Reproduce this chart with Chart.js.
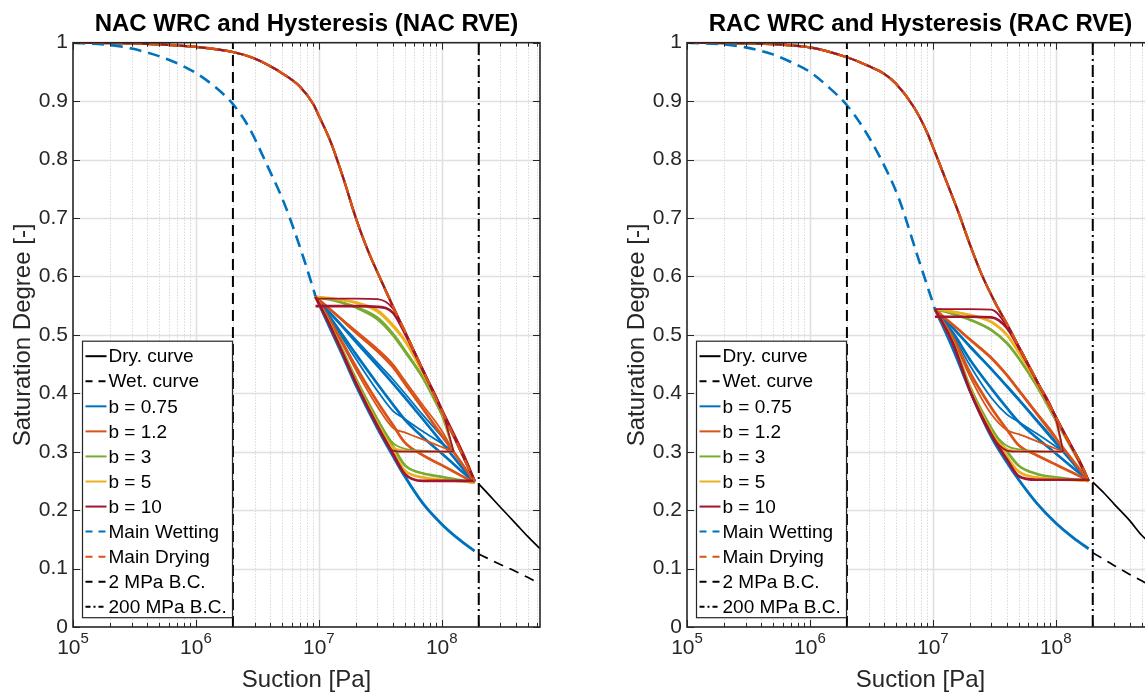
<!DOCTYPE html>
<html>
<head>
<meta charset="utf-8">
<script src="https://cdn.jsdelivr.net/npm/chart.js@4.4.1/dist/chart.umd.min.js"></script>
<style>
    html, body { margin: 0; padding: 0; background: #fff; width: 1145px; height: 695px; overflow: hidden; }
    .panel { position: absolute; top: 0; }
</style>
</head>
<body>
<div class="panel" style="left:0px"><canvas id="nac" width="560" height="695"></canvas></div>
<div class="panel" style="left:614px"><canvas id="rac" width="560" height="695"></canvas></div>
<script>
const FONT = "'Liberation Sans', Arial, Helvetica, sans-serif";
const INK = '#262626';

// b parameters and their colours
const bLabels = ['0.75', '1.2', '3', '5', '10'];
const bColors = ['#0072BD', '#D95319', '#77AC30', '#EDB120', '#A2142F'];

// shared suction values (Pa)
const suctionMD = [1e5, 3e5, 1e6, 2e6, 3e6, 4e6, 5e6, 7e6, 9e6, 1e7, 1.25e7, 1.6e7, 2e7, 2.5e7, 3.2e7, 4e7, 5e7, 6.3e7, 8e7, 1e8, 1.25e8, 1.6e8, 1.85e8];
const suctionEnd = [2e8, 2.5e8, 3e8, 4e8, 5e8, 6.3e8];
const bcLow = [2e6, 2e6];
const bcHigh = [2e8, 2e8];
const bcRange = [0, 1];

// ---- NAC RVE ----
const nacMainDrying = [1.0, 0.999, 0.993, 0.984, 0.973, 0.96, 0.948, 0.925, 0.895, 0.875, 0.83, 0.765, 0.7, 0.645, 0.594, 0.549, 0.506, 0.461, 0.414, 0.37, 0.327, 0.278, 0.25];
const nacWetSuction = [1e5, 2e5, 3e5, 5e5, 7e5, 1e6, 1.4e6, 2e6, 2.7e6, 3.8e6, 5.3e6, 7.5e6, 9.4e6];
const nacMainWetting = [1.0, 0.996, 0.99, 0.977, 0.965, 0.948, 0.926, 0.895, 0.855, 0.79, 0.722, 0.632, 0.566];
const nacLowSuction = [9.4e6, 1.2e7, 1.5e7, 2e7, 3e7, 4e7, 5e7, 7e7, 1e8, 1.4e8, 1.85e8];
const nacLowWetting = [0.566, 0.517, 0.473, 0.414, 0.34, 0.293, 0.258, 0.212, 0.176, 0.149, 0.13];
const nacDryCurve = [0.245, 0.223, 0.205, 0.177, 0.155, 0.134];
const nacWetCurve = [0.125, 0.115, 0.107, 0.095, 0.085, 0.074];
const nacLoopP = [9.4e6, 1.2e7, 1.5e7, 2e7, 3e7, 4e7, 5e7, 7e7, 1e8, 1.5e8, 1.85e8];
const nacLoopB = [9.4e6, 1.2e7, 1.5e7, 2e7, 3e7, 4e7, 5e7, 7e7, 1e8, 1.25e8];
const nacWetFromP = [
    [0.565, 0.534, 0.505, 0.467, 0.416, 0.381, 0.355, 0.325, 0.297, 0.264, 0.247],
    [0.565, 0.529, 0.493, 0.446, 0.385, 0.346, 0.316, 0.294, 0.277, 0.257, 0.247],
    [0.565, 0.523, 0.481, 0.425, 0.355, 0.31, 0.277, 0.263, 0.257, 0.25, 0.247],
    [0.565, 0.522, 0.478, 0.42, 0.348, 0.302, 0.268, 0.256, 0.252, 0.249, 0.247],
    [0.565, 0.521, 0.477, 0.418, 0.344, 0.297, 0.262, 0.25, 0.25, 0.25, 0.25]
];
const nacDryToP = [
    [0.565, 0.54, 0.518, 0.488, 0.447, 0.417, 0.393, 0.356, 0.316, 0.27, 0.247],
    [0.565, 0.546, 0.528, 0.504, 0.472, 0.445, 0.417, 0.374, 0.328, 0.276, 0.248],
    [0.565, 0.561, 0.556, 0.547, 0.527, 0.5, 0.472, 0.427, 0.365, 0.293, 0.249],
    [0.565, 0.563, 0.56, 0.555, 0.54, 0.515, 0.49, 0.436, 0.37, 0.295, 0.249],
    [0.549, 0.549, 0.549, 0.549, 0.548, 0.538, 0.503, 0.44, 0.372, 0.295, 0.25]
];
const nacDryToB = [
    [0.565, 0.541, 0.519, 0.492, 0.452, 0.424, 0.4, 0.363, 0.326, 0.30],
    [0.565, 0.546, 0.529, 0.507, 0.476, 0.45, 0.422, 0.38, 0.336, 0.30],
    [0.565, 0.561, 0.556, 0.548, 0.53, 0.503, 0.475, 0.428, 0.362, 0.30],
    [0.565, 0.563, 0.56, 0.556, 0.543, 0.518, 0.492, 0.436, 0.368, 0.30],
    [0.562, 0.562, 0.562, 0.562, 0.561, 0.545, 0.504, 0.44, 0.372, 0.30]
];
const nacWetFromB = [
    [0.565, 0.532, 0.5, 0.459, 0.404, 0.37, 0.356, 0.335, 0.314, 0.30],
    [0.565, 0.527, 0.49, 0.44, 0.377, 0.341, 0.333, 0.321, 0.308, 0.30],
    [0.565, 0.523, 0.48, 0.424, 0.355, 0.315, 0.305, 0.302, 0.30, 0.30],
    [0.565, 0.522, 0.478, 0.42, 0.348, 0.308, 0.302, 0.30, 0.30, 0.30],
    [0.565, 0.521, 0.477, 0.418, 0.344, 0.302, 0.30, 0.30, 0.30, 0.30]
];

// ---- RAC RVE ----
const racMainDrying = [1.0, 0.999, 0.992, 0.975, 0.96, 0.947, 0.93, 0.89, 0.846, 0.822, 0.77, 0.712, 0.655, 0.603, 0.556, 0.519, 0.48, 0.44, 0.398, 0.36, 0.32, 0.28, 0.25];
const racWetSuction = [1e5, 2e5, 3e5, 5e5, 7e5, 1e6, 1.4e6, 2e6, 2.7e6, 3.8e6, 5.3e6, 7.5e6, 1.04e7];
const racMainWetting = [1.0, 0.997, 0.992, 0.98, 0.967, 0.95, 0.925, 0.893, 0.855, 0.8, 0.733, 0.635, 0.544];
const racLowSuction = [1.04e7, 1.25e7, 1.5e7, 2e7, 3e7, 4e7, 5e7, 7e7, 1e8, 1.4e8, 1.85e8];
const racLowWetting = [0.544, 0.508, 0.47, 0.405, 0.325, 0.282, 0.252, 0.212, 0.178, 0.152, 0.134];
const racDryCurve = [0.248, 0.228, 0.21, 0.182, 0.157, 0.138];
const racWetCurve = [0.127, 0.115, 0.105, 0.09, 0.079, 0.068];
const racLoopP = [1.04e7, 1.25e7, 1.5e7, 2e7, 3e7, 4e7, 5e7, 7e7, 1e8, 1.5e8, 1.85e8];
const racLoopB = [1.04e7, 1.25e7, 1.5e7, 2e7, 3e7, 4e7, 5e7, 7e7, 1e8, 1.15e8];
const racWetFromP = [
    [0.544, 0.522, 0.5, 0.458, 0.408, 0.375, 0.351, 0.324, 0.297, 0.266, 0.25],
    [0.544, 0.518, 0.491, 0.436, 0.375, 0.338, 0.311, 0.294, 0.278, 0.26, 0.25],
    [0.544, 0.515, 0.482, 0.412, 0.34, 0.301, 0.276, 0.262, 0.256, 0.252, 0.25],
    [0.544, 0.514, 0.48, 0.408, 0.333, 0.292, 0.266, 0.256, 0.253, 0.251, 0.25],
    [0.544, 0.514, 0.479, 0.405, 0.329, 0.287, 0.258, 0.252, 0.252, 0.252, 0.252]
];
const racDryToP = [
    [0.544, 0.526, 0.509, 0.48, 0.441, 0.412, 0.389, 0.353, 0.315, 0.272, 0.25],
    [0.544, 0.529, 0.515, 0.492, 0.46, 0.431, 0.405, 0.365, 0.323, 0.275, 0.25],
    [0.544, 0.54, 0.535, 0.526, 0.508, 0.486, 0.46, 0.413, 0.354, 0.288, 0.25],
    [0.544, 0.542, 0.539, 0.534, 0.522, 0.5, 0.47, 0.418, 0.357, 0.289, 0.25],
    [0.531, 0.531, 0.531, 0.531, 0.53, 0.512, 0.478, 0.421, 0.359, 0.29, 0.25]
];
const racDryToB = [
    [0.544, 0.526, 0.509, 0.481, 0.442, 0.413, 0.39, 0.355, 0.317, 0.30],
    [0.544, 0.529, 0.515, 0.493, 0.461, 0.432, 0.406, 0.367, 0.325, 0.30],
    [0.544, 0.54, 0.535, 0.526, 0.508, 0.486, 0.46, 0.413, 0.352, 0.30],
    [0.544, 0.542, 0.539, 0.534, 0.522, 0.5, 0.47, 0.418, 0.355, 0.30],
    [0.544, 0.544, 0.544, 0.544, 0.543, 0.515, 0.478, 0.421, 0.357, 0.30]
];
const racWetFromB = [
    [0.544, 0.52, 0.495, 0.448, 0.392, 0.364, 0.351, 0.331, 0.309, 0.30],
    [0.544, 0.517, 0.488, 0.429, 0.364, 0.337, 0.33, 0.318, 0.305, 0.30],
    [0.544, 0.514, 0.481, 0.41, 0.338, 0.31, 0.304, 0.301, 0.30, 0.30],
    [0.544, 0.514, 0.48, 0.406, 0.332, 0.305, 0.301, 0.30, 0.30, 0.30],
    [0.544, 0.513, 0.479, 0.404, 0.328, 0.302, 0.30, 0.30, 0.30, 0.30]
];

// legend entries (same on both panels)
const legendLabels = ['Dry. curve', 'Wet. curve', 'b = 0.75', 'b = 1.2', 'b = 3', 'b = 5', 'b = 10',
    'Main Wetting', 'Main Drying', '2 MPa B.C.', '200 MPa B.C.'];
const legendColors = ['#000000', '#000000', ...bColors, '#0072BD', '#D95319', '#000000', '#000000'];
const legendDashes = [[], [7, 6], [], [], [], [], [], [7, 6], [7, 6], [7, 6], [5, 3, 2, 3]];

function series(xs, ys) {
    return xs.map((x, i) => ({ x: x, y: ys[i] }));
}

function buildDatasets(p) {
    const list = [];
    const add = (data, color, width, dash, smooth = true) => list.push({
        data: data,
        borderColor: color,
        borderWidth: width,
        borderDash: dash || [],
        showLine: true,
        pointRadius: 0,
        fill: false,
        tension: 0,
        cubicInterpolationMode: smooth ? 'monotone' : 'default'
    });

    // drawn bottom to top (MATLAB plot order)
    add(series(suctionEnd, p.dryCurve), '#000000', 1.7);
    add(series(suctionEnd, p.wetCurve), '#000000', 1.7, [10, 7]);
    bColors.forEach((c, k) => {
        add(series(suctionMD, p.mainDrying), c, 2.2);
        if (k === 0) add(series(p.lowSuction, p.lowWetting), c, 2.9);
        add(series(p.loopP, p.wetFromP[k]), c, 2.7);
        add(series(p.loopP, p.dryToP[k]), c, 2.7);
        add(series(p.loopB, p.dryToB[k]), c, 1.8);
        add(series(p.loopB, p.wetFromB[k]), c, 1.8);
    });
    add(series(p.wetSuction, p.mainWetting), '#0072BD', 2.6, [12, 7]);
    add(series(suctionMD, p.mainDrying), '#D95319', 2.4, [12, 7]);
    add(series(bcLow, bcRange), '#000000', 2, [11, 6], false);
    add(series(bcHigh, bcRange), '#000000', 2, [12, 4, 2, 4], false);

    // Chart.js paints the lowest order last, so reverse the MATLAB order
    list.forEach((d, i) => { d.order = list.length - i; });
    return list;
}

// gridlines, box, inside ticks, power-of-ten labels and the legend
const axesDecor = {
    id: 'axesDecor',
    beforeDatasetsDraw(chart) {
        const { ctx, chartArea: a, scales: { x, y } } = chart;
        ctx.save();
        for (let e = 5; e <= 8; e++) {
            for (let k = 1; k <= 9; k++) {
                const v = k * Math.pow(10, e);
                if (v <= x.min || v >= x.max) continue;
                const px = Math.round(x.getPixelForValue(v)) + 0.5;
                ctx.beginPath();
                if (k === 1) {
                    ctx.strokeStyle = '#e0e0e0';
                    ctx.lineWidth = 1.6;
                    ctx.setLineDash([]);
                } else {
                    ctx.strokeStyle = '#c8c8c8';
                    ctx.lineWidth = 1;
                    ctx.setLineDash([1, 2]);
                }
                ctx.moveTo(px, a.top);
                ctx.lineTo(px, a.bottom);
                ctx.stroke();
            }
        }
        ctx.setLineDash([]);
        ctx.strokeStyle = '#e0e0e0';
        ctx.lineWidth = 1.6;
        y.ticks.forEach(t => {
            if (t.value <= 0 || t.value >= 1) return;
            const py = Math.round(y.getPixelForValue(t.value)) + 0.5;
            ctx.beginPath();
            ctx.moveTo(a.left, py);
            ctx.lineTo(a.right, py);
            ctx.stroke();
        });
        ctx.restore();
    },
    afterDraw(chart) {
        const { ctx, chartArea: a, scales: { x, y } } = chart;
        ctx.save();

        // inside tick marks
        ctx.strokeStyle = INK;
        ctx.lineWidth = 1;
        for (let e = 5; e <= 8; e++) {
            for (let k = 1; k <= 9; k++) {
                const v = k * Math.pow(10, e);
                if (v < x.min || v > x.max) continue;
                const px = Math.round(x.getPixelForValue(v)) + 0.5;
                const len = k === 1 ? 7 : 4;
                ctx.beginPath();
                ctx.moveTo(px, a.bottom); ctx.lineTo(px, a.bottom - len);
                ctx.moveTo(px, a.top); ctx.lineTo(px, a.top + len);
                ctx.stroke();
            }
        }
        y.ticks.forEach(t => {
            const py = Math.round(y.getPixelForValue(t.value)) + 0.5;
            ctx.beginPath();
            ctx.moveTo(a.left, py); ctx.lineTo(a.left + 7, py);
            ctx.moveTo(a.right, py); ctx.lineTo(a.right - 7, py);
            ctx.stroke();
        });

        // axes box
        ctx.lineWidth = 1.6;
        ctx.strokeRect(a.left, a.top, a.right - a.left, a.bottom - a.top);

        // x tick labels as 10^n
        ctx.fillStyle = INK;
        ctx.textBaseline = 'alphabetic';
        ctx.textAlign = 'left';
        for (let e = 5; e <= 9; e++) {
            const v = Math.pow(10, e);
            if (v < x.min || v > x.max) continue;
            const px = x.getPixelForValue(v);
            ctx.font = '21px ' + FONT;
            const w1 = ctx.measureText('10').width;
            ctx.font = '15px ' + FONT;
            const w2 = ctx.measureText(String(e)).width;
            const left = px - (w1 + w2) / 2;
            ctx.font = '21px ' + FONT;
            ctx.fillText('10', left, a.bottom + 27);
            ctx.font = '15px ' + FONT;
            ctx.fillText(String(e), left + w1, a.bottom + 16);
        }

        // legend box, lower left inside the axes
        const lx = a.left + 9.5;
        const ly = a.top + 298.5;
        const lw = 150;
        const lh = 276.5;
        ctx.fillStyle = '#ffffff';
        ctx.fillRect(lx, ly, lw, lh);
        ctx.strokeStyle = INK;
        ctx.lineWidth = 1.2;
        ctx.strokeRect(lx, ly, lw, lh);
        ctx.font = '19px ' + FONT;
        ctx.textBaseline = 'middle';
        legendLabels.forEach((label, i) => {
            const cy = ly + 15 + i * 25.06;
            ctx.beginPath();
            ctx.strokeStyle = legendColors[i];
            ctx.lineWidth = 2;
            ctx.setLineDash(legendDashes[i]);
            ctx.moveTo(lx + 3, cy);
            ctx.lineTo(lx + 24, cy);
            ctx.stroke();
            ctx.setLineDash([]);
            ctx.fillStyle = '#000000';
            ctx.fillText(label, lx + 26, cy + 1);
        });
        ctx.restore();
    }
};

function makePanel(canvasId, title, p) {
    return new Chart(document.getElementById(canvasId), {
        type: 'scatter',
        data: { datasets: buildDatasets(p) },
        options: {
            responsive: false,
            devicePixelRatio: 1,
            animation: false,
            events: [],
            layout: { padding: { top: 0, right: 20, bottom: 0, left: 0 } },
            plugins: {
                legend: { display: false },
                tooltip: { enabled: false },
                title: {
                    display: true,
                    text: title,
                    fullSize: false,
                    color: '#000000',
                    font: { family: FONT, size: 24, weight: 'bold' },
                    padding: { top: 10, bottom: 3.9 }
                }
            },
            scales: {
                x: {
                    type: 'logarithmic',
                    min: 1e5,
                    max: 6.3e8,
                    grid: { display: false, drawTicks: false },
                    border: { display: false },
                    ticks: { display: false },
                    title: {
                        display: true,
                        text: 'Suction [Pa]',
                        color: INK,
                        font: { family: FONT, size: 24 },
                        padding: { top: 0, bottom: 0 }
                    },
                    afterFit: s => { s.height = 68; }
                },
                y: {
                    type: 'linear',
                    min: 0,
                    max: 1,
                    grid: { display: false, drawTicks: false },
                    border: { display: false },
                    ticks: {
                        stepSize: 0.1,
                        padding: 5,
                        color: INK,
                        font: { family: FONT, size: 21 },
                        callback: v => String(Number(v.toFixed(1)))
                    },
                    title: {
                        display: true,
                        text: 'Saturation Degree [-]',
                        color: INK,
                        font: { family: FONT, size: 24 },
                        padding: { top: 9, bottom: 0 }
                    },
                    afterFit: s => { s.width = 73; }
                }
            }
        },
        plugins: [axesDecor]
    });
}

makePanel('nac', 'NAC WRC and Hysteresis (NAC RVE)', {
    mainDrying: nacMainDrying, wetSuction: nacWetSuction, mainWetting: nacMainWetting,
    lowSuction: nacLowSuction, lowWetting: nacLowWetting,
    dryCurve: nacDryCurve, wetCurve: nacWetCurve,
    loopP: nacLoopP, loopB: nacLoopB,
    wetFromP: nacWetFromP, dryToP: nacDryToP, dryToB: nacDryToB, wetFromB: nacWetFromB
});

makePanel('rac', 'RAC WRC and Hysteresis (RAC RVE)', {
    mainDrying: racMainDrying, wetSuction: racWetSuction, mainWetting: racMainWetting,
    lowSuction: racLowSuction, lowWetting: racLowWetting,
    dryCurve: racDryCurve, wetCurve: racWetCurve,
    loopP: racLoopP, loopB: racLoopB,
    wetFromP: racWetFromP, dryToP: racDryToP, dryToB: racDryToB, wetFromB: racWetFromB
});
</script>
</body>
</html>
